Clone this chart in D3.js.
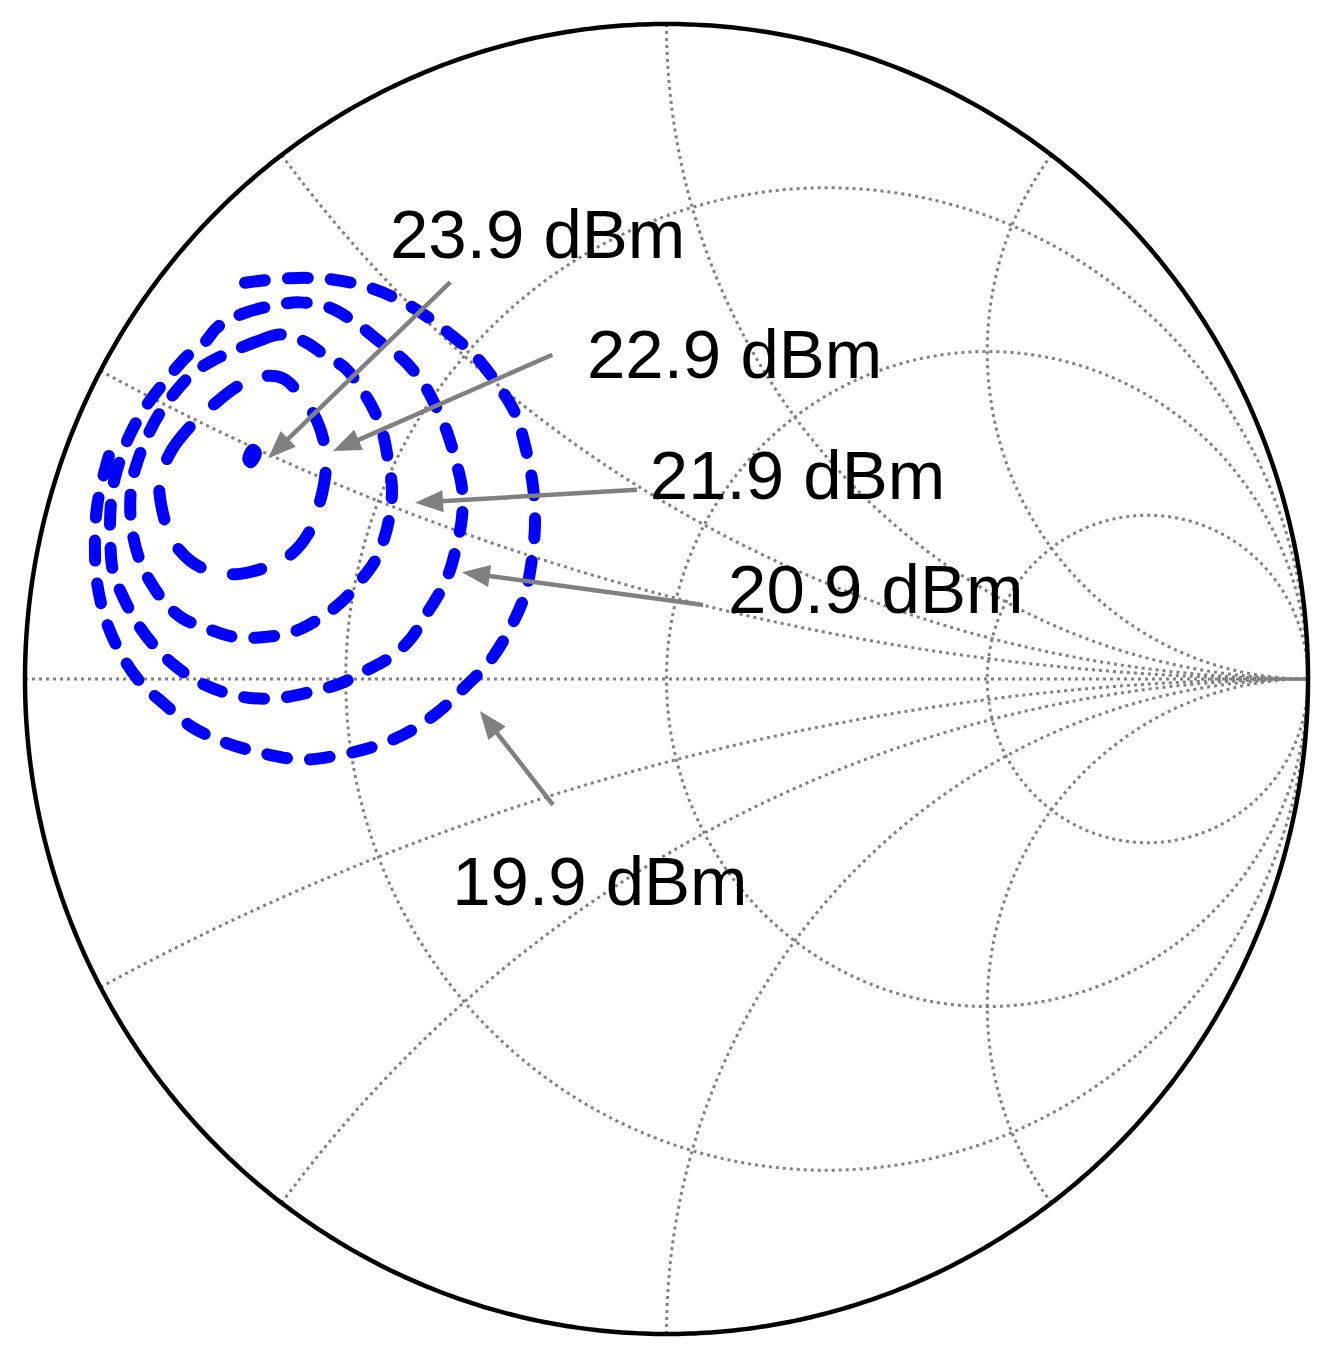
<!DOCTYPE html>
<html><head><meta charset="utf-8">
<script src="https://cdn.jsdelivr.net/npm/d3@7"></script>
<style>body{margin:0;background:#fff}svg{display:block}</style>
</head><body><svg id="chart" width="1336" height="1364"></svg>
<script>
// ---- Smith chart grid values ----
const resistanceValues = [1/3, 1, 3];
const reactanceValues = [0.25, 0.5, 1, 2, -0.25, -0.5, -1, -2];

// ---- Output power contours (reflection coefficient, [re, im]) ----
const contourLevels = ["19.9 dBm", "20.9 dBm", "21.9 dBm", "22.9 dBm", "23.9 dBm"];
const contour199 = [[-0.657,0.605],[-0.587,0.612],[-0.521,0.610],[-0.458,0.596],[-0.395,0.567],[-0.342,0.530],[-0.299,0.494],[-0.263,0.449],[-0.236,0.406],[-0.219,0.350],[-0.208,0.293],[-0.205,0.237],[-0.210,0.181],[-0.221,0.128],[-0.244,0.077],[-0.275,0.028],[-0.314,-0.012],[-0.358,-0.052],[-0.408,-0.084],[-0.462,-0.105],[-0.520,-0.118],[-0.571,-0.123],[-0.631,-0.113],[-0.688,-0.097],[-0.740,-0.073],[-0.782,-0.039],[-0.821,-0.004],[-0.852,0.041],[-0.875,0.093],[-0.888,0.149],[-0.891,0.205],[-0.888,0.261],[-0.878,0.309],[-0.868,0.345]];
const contour209 = [[-0.699,0.538],[-0.657,0.559],[-0.613,0.570],[-0.571,0.575],[-0.525,0.567],[-0.482,0.542],[-0.447,0.515],[-0.412,0.489],[-0.381,0.454],[-0.361,0.419],[-0.342,0.377],[-0.330,0.338],[-0.319,0.293],[-0.319,0.245],[-0.327,0.205],[-0.338,0.165],[-0.353,0.133],[-0.373,0.101],[-0.400,0.060],[-0.431,0.033],[-0.470,0.012],[-0.509,-0.007],[-0.556,-0.020],[-0.603,-0.029],[-0.649,-0.029],[-0.691,-0.020],[-0.730,-0.004],[-0.766,0.020],[-0.797,0.049],[-0.825,0.085],[-0.847,0.125],[-0.863,0.165],[-0.867,0.210],[-0.867,0.253],[-0.863,0.293],[-0.852,0.334],[-0.836,0.374],[-0.813,0.414],[-0.782,0.454],[-0.746,0.494],[-0.719,0.515]];
const contour219 = [[-0.680,0.499],[-0.631,0.518],[-0.603,0.526],[-0.564,0.515],[-0.532,0.494],[-0.501,0.475],[-0.478,0.446],[-0.458,0.414],[-0.442,0.374],[-0.434,0.334],[-0.428,0.293],[-0.431,0.253],[-0.439,0.218],[-0.454,0.181],[-0.478,0.149],[-0.504,0.120],[-0.540,0.093],[-0.579,0.073],[-0.626,0.064],[-0.673,0.064],[-0.716,0.077],[-0.755,0.093],[-0.782,0.117],[-0.805,0.149],[-0.821,0.181],[-0.832,0.221],[-0.836,0.261],[-0.833,0.302],[-0.824,0.334],[-0.810,0.369],[-0.790,0.406],[-0.766,0.438],[-0.738,0.467],[-0.708,0.486]];
const contour229 = [[-0.790,0.302],[-0.771,0.350],[-0.743,0.385],[-0.708,0.417],[-0.670,0.446],[-0.631,0.462],[-0.598,0.459],[-0.564,0.425],[-0.543,0.390],[-0.532,0.350],[-0.532,0.310],[-0.543,0.261],[-0.559,0.221],[-0.587,0.189],[-0.626,0.170],[-0.670,0.160],[-0.712,0.165],[-0.743,0.181],[-0.769,0.210],[-0.785,0.253]];
const contour239 = [[-0.645,0.350],[-0.640,0.345],[-0.648,0.331],[-0.652,0.336]];

// ---- Annotations (label anchor and arrow, in reflection-coefficient units) ----
const labelAnchors = [[-0.334,-0.345],[0.096,0.101],[-0.026,0.275],[-0.124,0.460],[-0.431,0.643]];
const arrowTails   = [[-0.177,-0.192],[0.057,0.113],[-0.046,0.289],[-0.178,0.495],[-0.337,0.606]];
const arrowTips    = [[-0.291,-0.049],[-0.319,0.163],[-0.392,0.269],[-0.520,0.348],[-0.621,0.337]];

// ---- Drawing ----
const svg = d3.select("#chart");
const x = d3.scaleLinear().domain([-1, 1]).range([25, 1308]);
const y = d3.scaleLinear().domain([-1, 1]).range([1334, 24]);
const line = d3.line().x(d => x(d[0])).y(d => y(d[1]));
const GRID = "#808080";

const gGrid = svg.append("g").attr("fill", "none").attr("stroke", GRID)
  .attr("stroke-width", 3).attr("stroke-dasharray", "3,4");

// constant resistance circles
resistanceValues.forEach(r => {
  const c = r / (1 + r), R = 1 / (1 + r);
  const pts = d3.range(0, 721).map(i => {
    const t = i / 720 * 2 * Math.PI;
    return [c + R * Math.cos(t), R * Math.sin(t)];
  });
  gGrid.append("path").attr("d", line(pts));
});

// constant reactance arcs
reactanceValues.forEach(xv => {
  const pts = d3.range(0, 601).map(i => {
    const t = i / 600 * Math.PI / 2;
    if (i === 600) return [1, 0];
    const r = Math.tan(t);
    const D = (r + 1) * (r + 1) + xv * xv;
    return [(r * r + xv * xv - 1) / D, 2 * xv / D];
  });
  gGrid.append("path").attr("d", line(pts));
});

// real axis
gGrid.append("path").attr("d", line([[-1, 0], [1, 0]]));

// outer circle
const outer = d3.range(0, 721).map(i => {
  const t = i / 720 * 2 * Math.PI;
  return [Math.cos(t), Math.sin(t)];
});
svg.append("path").attr("d", line(outer)).attr("fill", "none")
  .attr("stroke", "#000").attr("stroke-width", 4.5);

// contours
const closedLine = d3.line().x(d => x(d[0])).y(d => y(d[1])).curve(d3.curveCatmullRomClosed);
const openLine = d3.line().x(d => x(d[0])).y(d => y(d[1])).curve(d3.curveCatmullRom);
const gC = svg.append("g").attr("fill", "none").attr("stroke", "#0000ff")
  .attr("stroke-width", 12).attr("stroke-linecap", "round").attr("stroke-linejoin", "round");
gC.append("path").attr("d", openLine(contour199)).attr("stroke-dasharray", "20,23");
gC.append("path").attr("d", closedLine(contour209)).attr("stroke-dasharray", "20,23");
gC.append("path").attr("d", closedLine(contour219)).attr("stroke-dasharray", "20,23");
gC.append("path").attr("d", closedLine(contour229)).attr("stroke-dasharray", "29,33");
gC.append("path").attr("d", closedLine(contour239));

// arrows
const gA = svg.append("g");
arrowTails.forEach((tail, i) => {
  const tip = arrowTips[i];
  const x0 = x(tail[0]), y0 = y(tail[1]), x1 = x(tip[0]), y1 = y(tip[1]);
  const dx = x1 - x0, dy = y1 - y0, L = Math.hypot(dx, dy);
  const ux = dx / L, uy = dy / L, hl = 28, hw = 11;
  const bx = x1 - ux * hl, by = y1 - uy * hl;
  gA.append("line").attr("x1", x0).attr("y1", y0).attr("x2", bx + ux * 2).attr("y2", by + uy * 2)
    .attr("stroke", GRID).attr("stroke-width", 4.5);
  gA.append("path")
    .attr("d", `M${x1},${y1}L${bx - uy * hw},${by + ux * hw}L${bx + uy * hw},${by - ux * hw}Z`)
    .attr("fill", GRID);
});

// labels
svg.append("g").selectAll("text").data(contourLevels).join("text")
  .attr("x", (d, i) => x(labelAnchors[i][0]))
  .attr("y", (d, i) => y(labelAnchors[i][1]))
  .attr("font-family", "'Liberation Sans', Arial, sans-serif")
  .attr("font-size", 69).attr("fill", "#000")
  .text(d => d);
</script></body></html>
